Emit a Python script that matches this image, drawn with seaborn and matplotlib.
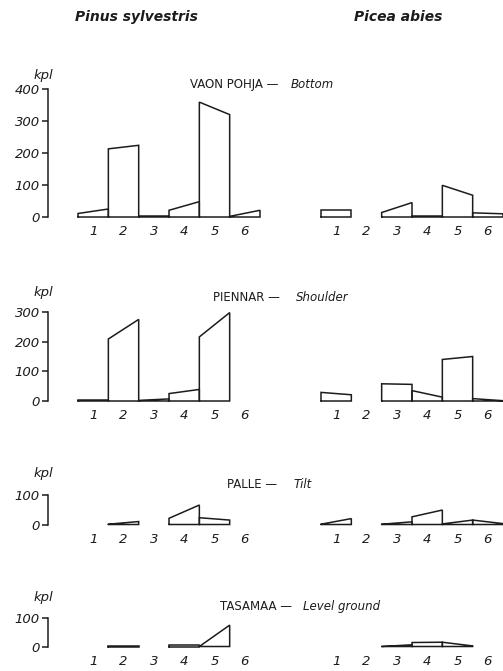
import numpy as np
import pandas as pd
import matplotlib
matplotlib.use("Agg")
import matplotlib.pyplot as plt
import seaborn as sns

# ---------------- data ----------------
classes = [1, 2, 3, 4, 5, 6]
species = ["Pinus sylvestris", "Picea abies"]
site_fi = ["VAON POHJA", "PIENNAR", "PALLE", "TASAMAA"]
site_en = ["Bottom", "Shoulder", "Tilt", "Level ground"]
y_label = "kpl"

# value at left edge (start) and right edge (end) of every class
pinus_bottom_start = [11, 213, 3, 21, 359, 2]
pinus_bottom_end = [25, 224, 3, 48, 320, 21]
picea_bottom_start = [21, 0, 14, 2, 99, 13]
picea_bottom_end = [21, 0, 45, 2, 68, 10]

pinus_shoulder_start = [3, 209, 2, 25, 216, 0]
pinus_shoulder_end = [3, 275, 7, 39, 298, 0]
picea_shoulder_start = [29, 0, 58, 35, 140, 8]
picea_shoulder_end = [21, 0, 56, 13, 150, 1]

pinus_tilt_start = [0, 1, 0, 21, 23, 0]
pinus_tilt_end = [0, 10, 0, 66, 15, 0]
picea_tilt_start = [1, 0, 1, 26, 2, 15]
picea_tilt_end = [20, 0, 9, 49, 15, 3]

pinus_level_start = [0, 3, 0, 6, 0, 0]
pinus_level_end = [0, 3, 0, 6, 75, 0]
picea_level_start = [0, 0, 0, 14, 15, 0]
picea_level_end = [0, 0, 6, 15, 2, 0]

y_ticks = [[0, 100, 200, 300, 400], [0, 100, 200, 300], [0, 100], [0, 100]]

pinus_start = [pinus_bottom_start, pinus_shoulder_start, pinus_tilt_start, pinus_level_start]
pinus_end = [pinus_bottom_end, pinus_shoulder_end, pinus_tilt_end, pinus_level_end]
picea_start = [picea_bottom_start, picea_shoulder_start, picea_tilt_start, picea_level_start]
picea_end = [picea_bottom_end, picea_shoulder_end, picea_tilt_end, picea_level_end]

# ---------------- style ----------------
sns.set_theme(style="white")
plt.rcParams["font.family"] = ["DejaVu Sans"]
INK = "#1c1c1c"

W, H = 503, 671
fig = plt.figure(figsize=(W / 100, H / 100), dpi=100)
fig.patch.set_facecolor("white")

# layout in pixels: (baseline y, top y)
rows_px = [(217, 89), (401, 312), (524.5, 495), (646.5, 618)]
cols_px = [(48, 260, -0.49), (321, 503, 0.5)]
title_base_y = [88, 301, 488, 610]
kpl_y = [75, 292, 474, 598]
split_x = [(278, 291), (280, 296), (277, 294), (292, 303)]


def outline_frame(starts, ends):
    recs = []
    for c, s, e in zip(classes, starts, ends):
        if s == 0 and e == 0:
            continue
        xs = [c - 0.5, c - 0.5, c + 0.5, c + 0.5, c - 0.5]
        ys = [0, s, e, 0, 0]
        for k, (x, y) in enumerate(zip(xs, ys)):
            recs.append({"x": x, "y": y, "bar": c, "order": k})
    return pd.DataFrame(recs)


for r in range(4):
    yb, yt = rows_px[r]
    ymax = y_ticks[r][-1]
    for ci in range(2):
        xl, xr, xmin = cols_px[ci]
        ax = fig.add_axes([xl / W, 1 - yb / H, (xr - xl) / W, (yb - yt) / H])
        ax.set_facecolor("none")
        starts = pinus_start[r] if ci == 0 else picea_start[r]
        ends = pinus_end[r] if ci == 0 else picea_end[r]
        df = outline_frame(starts, ends)
        sns.lineplot(data=df, x="x", y="y", units="bar", estimator=None,
                     sort=False, color=INK, lw=1.1, ax=ax, legend=False)
        for ln in ax.lines:
            ln.set_clip_on(False)
            ln.set_solid_joinstyle("miter")
        ax.set_xlim(xmin, 6.5)
        ax.set_ylim(0, ymax)
        ax.set_xlabel("")
        ax.set_ylabel("")
        ax.set_xticks(classes)
        ax.set_xticklabels([str(c) for c in classes], fontstyle="italic",
                           fontsize=9.5, color=INK)
        ax.tick_params(axis="x", length=0, pad=6)
        for sp in ["top", "right", "bottom"]:
            ax.spines[sp].set_visible(False)
        if ci == 0:
            ax.spines["left"].set_color(INK)
            ax.spines["left"].set_linewidth(1.1)
            ax.set_yticks(y_ticks[r])
            ax.set_yticklabels([str(v) for v in y_ticks[r]], fontstyle="italic",
                               fontsize=9.5, color=INK)
            ax.tick_params(axis="y", direction="out", length=4, width=1.1,
                           color=INK, pad=2, left=True)
        else:
            ax.spines["left"].set_visible(False)
            ax.set_yticks([])

    # kpl label
    fig.text(43 / W, 1 - kpl_y[r] / H, y_label, fontstyle="italic", fontsize=9.5,
             color=INK, ha="center", va="center")
    # row title: Finnish (upright) + English (italic)
    fig.text(split_x[r][0] / W, 1 - title_base_y[r] / H, site_fi[r] + " \u2014",
             fontsize=8.5, color=INK, ha="right", va="baseline")
    fig.text(split_x[r][1] / W, 1 - title_base_y[r] / H, site_en[r],
             fontsize=8.5, fontstyle="italic", color=INK, ha="left", va="baseline")

# species headings
fig.text(136 / W, 1 - 17 / H, species[0], fontsize=10, fontweight="bold",
         fontstyle="italic", color=INK, ha="center", va="center")
fig.text(398 / W, 1 - 17 / H, species[1], fontsize=10, fontweight="bold",
         fontstyle="italic", color=INK, ha="center", va="center")

fig.savefig("out.png", dpi=100, facecolor="white")
